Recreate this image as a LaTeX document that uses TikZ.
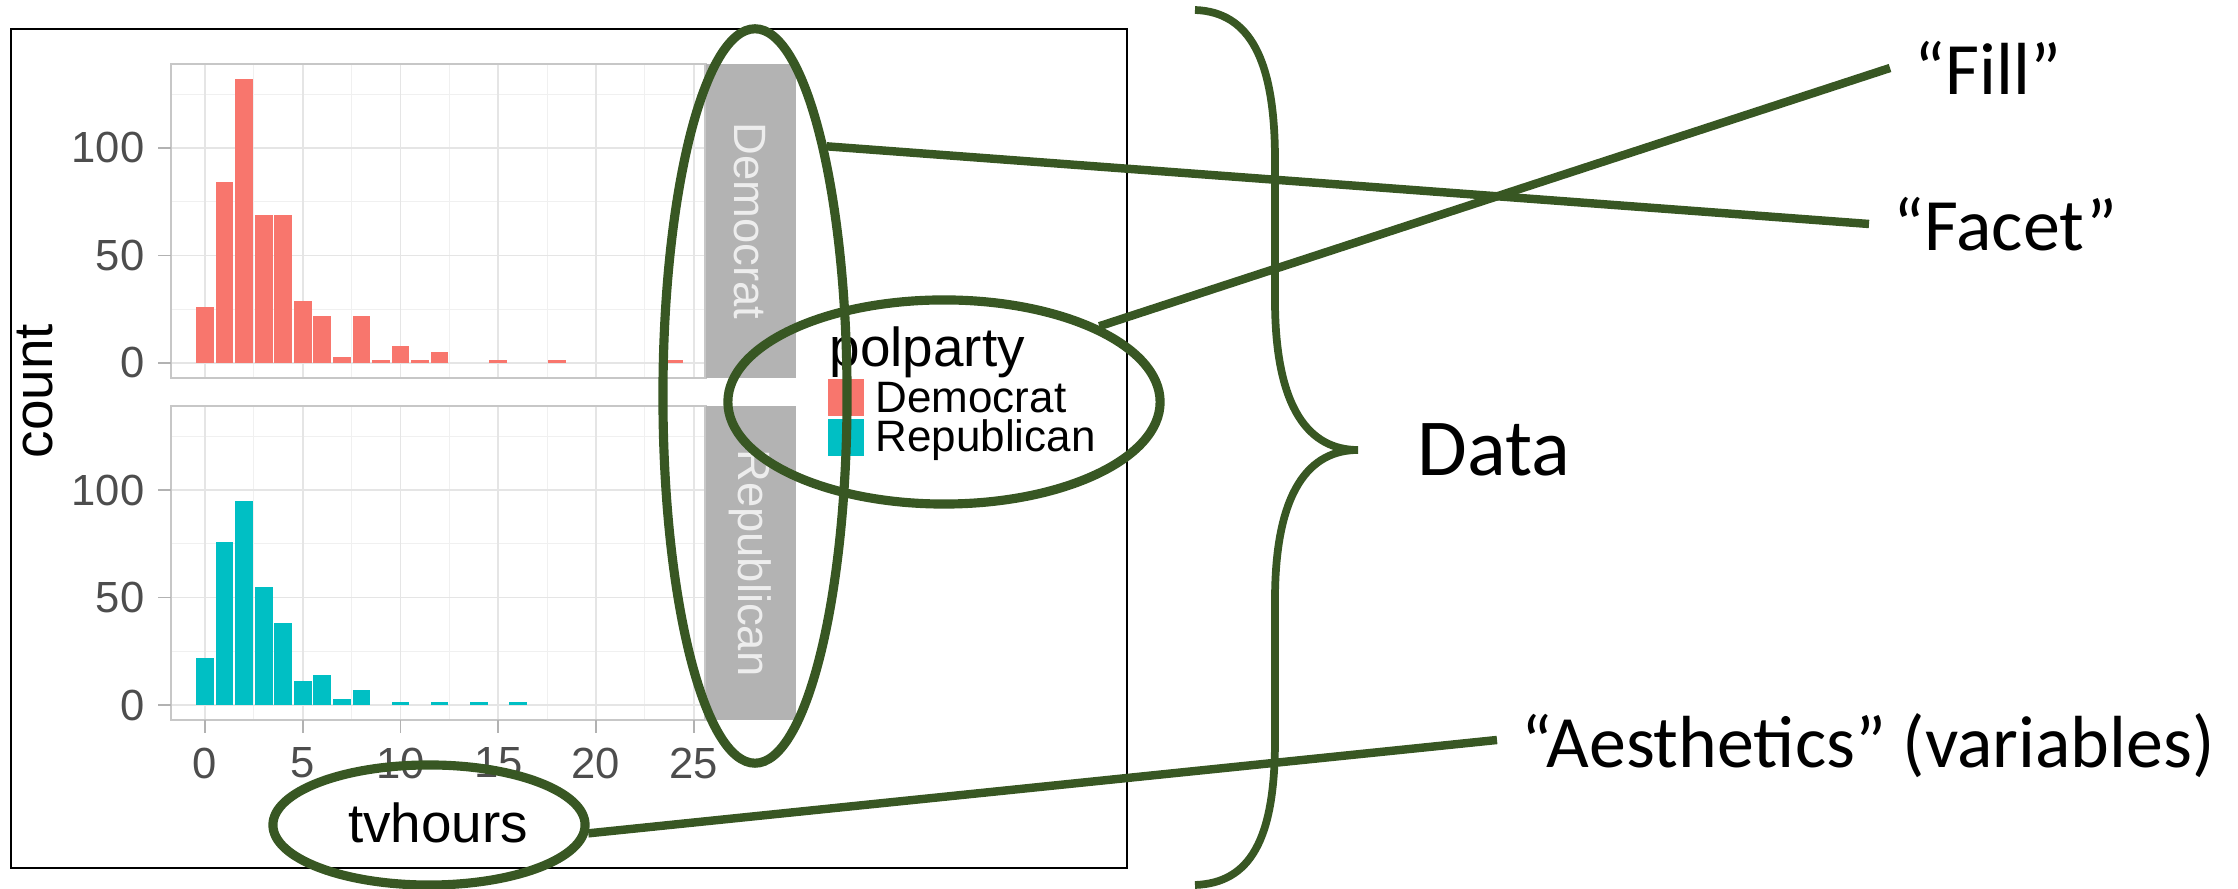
\documentclass[tikz,border=0pt]{standalone}
\usepackage{fontspec}
\setmainfont{Carlito}
\newfontfamily\plotfont{Liberation Sans}
\usetikzlibrary{shapes.geometric}
\definecolor{callgreen}{RGB}{56,87,35}
\definecolor{demred}{HTML}{F8766D}
\definecolor{repcyan}{HTML}{00BFC4}
\definecolor{stripgray}{HTML}{B3B3B3}
\definecolor{axisgray}{HTML}{4D4D4D}
\begin{document}
\begin{tikzpicture}[x = 0.01cm, y = -0.01cm,
        oval/.style = {ellipse, draw = callgreen, line width = 2.6pt, inner sep = 0pt},
        callout/.style = {draw = callgreen, line width = 2.4pt},
        lbl/.style = {font = \fontsize{21}{25}\selectfont, inner xsep = 0.24cm, inner ysep = 0pt},
        ticklbl/.style = {font = \plotfont\fontsize{12.4}{14}\selectfont, text = axisgray, inner sep = 0pt},
        axislbl/.style = {font = \plotfont\fontsize{15.6}{18}\selectfont, inner sep = 0pt},
        keylbl/.style = {font = \plotfont\fontsize{12.5}{14}\selectfont, inner sep = 0pt},
        striplbl/.style = {font = \plotfont\fontsize{12.9}{14}\selectfont, text = white!93!black, inner sep = 0pt},
        panelborder/.style = {draw = black!22, line width = 0.6pt},
        majorgrid/.style = {draw = black!10, line width = 0.5pt},
        minorgrid/.style = {draw = black!6, line width = 0.3pt},
        axistick/.style = {draw = black!30, line width = 0.5pt}]
    \useasboundingbox (0, 0) rectangle (2238, 889);
    \draw [line width = 0.6pt] (11, 29) rectangle (1127, 868);

    \begin{scope}[shift = {(205, 363)}, xscale = 19.55, yscale = -2.15]
        \foreach \gx in {2.5, 7.5, ..., 22.5}
            \draw [minorgrid] (\gx, -7) -- (\gx, 139);
        \foreach \gy in {25, 75, 125}
            \draw [minorgrid] (-1.74, \gy) -- (25.6, \gy);
        \foreach \gx in {0, 5, ..., 25}
            \draw [majorgrid] (\gx, -7) -- (\gx, 139);
        \foreach \gy in {0, 50, 100}
            \draw [majorgrid] (-1.74, \gy) -- (25.6, \gy);
        \foreach \bx/\bc in {0/26, 1/84, 2/132, 3/69, 4/69, 5/29, 6/22, 7/3, 8/22,
                9/1.3, 10/8, 11/1.3, 12/5, 15/1.3, 18/1.3, 24/1.3}
            \fill [demred] (\bx - 0.455, 0) rectangle (\bx + 0.455, \bc);
        \draw [panelborder] (-1.74, -7) rectangle (25.6, 139);
    \end{scope}

    \begin{scope}[shift = {(205, 705)}, xscale = 19.55, yscale = -2.15]
        \foreach \gx in {2.5, 7.5, ..., 22.5}
            \draw [minorgrid] (\gx, -7) -- (\gx, 139);
        \foreach \gy in {25, 75, 125}
            \draw [minorgrid] (-1.74, \gy) -- (25.6, \gy);
        \foreach \gx in {0, 5, ..., 25}
            \draw [majorgrid] (\gx, -7) -- (\gx, 139);
        \foreach \gy in {0, 50, 100}
            \draw [majorgrid] (-1.74, \gy) -- (25.6, \gy);
        \foreach \bx/\bc in {0/22, 1/76, 2/95, 3/55, 4/38, 5/11, 6/14, 7/3, 8/7,
                10/1.3, 12/1.3, 14/1.3, 16/1.3}
            \fill [repcyan] (\bx - 0.455, 0) rectangle (\bx + 0.455, \bc);
        \draw [panelborder] (-1.74, -7) rectangle (25.6, 139);
    \end{scope}

    \foreach \ty in {0, 50, 100} {
        \draw [axistick] (158, {363 - 2.15*\ty}) -- (171, {363 - 2.15*\ty});
        \node [ticklbl, anchor = east] (ytop\ty) at (145, {363 - 2.15*\ty}) {\ty};
        \draw [axistick] (158, {705 - 2.15*\ty}) -- (171, {705 - 2.15*\ty});
        \node [ticklbl, anchor = east] (ybot\ty) at (145, {705 - 2.15*\ty}) {\ty};
    }
    \foreach \tx in {0, 5, ..., 25} {
        \draw [axistick] ({205 + 19.55*\tx}, 720) -- ({205 + 19.55*\tx}, 733);
        \node [ticklbl, anchor = north] (xt\tx) at ({205 + 19.55*\tx}, 747) {\tx};
    }

    \fill [stripgray] (706, 64) rectangle (796, 378);
    \fill [stripgray] (706, 406) rectangle (796, 720);
    \node [striplbl, rotate = -90] (demstrip) at (750, 221) {Democrat};
    \node [striplbl, rotate = -90] (repstrip) at (750, 563) {Republican};

    \node [axislbl, rotate = 90, anchor = base] (countlbl) at (52, 391) {count};
    \node [axislbl, anchor = base] (tvlbl) at (438, 843) {tvhours};

    \node [axislbl, anchor = base west] (legtitle) at (829, 367) {polparty};
    \filldraw [draw = white, fill = demred] (827, 378) rectangle (865, 417);
    \filldraw [draw = white, fill = repcyan] (827, 418) rectangle (865, 457);
    \node [keylbl, anchor = base west] (demkey) at (875, 413) {Democrat};
    \node [keylbl, anchor = base west] (repkey) at (875, 452) {Republican};

    \node [oval, minimum width = 1.84cm, minimum height = 7.34cm] (facetoval) at (755, 396) {};
    \node [oval, minimum width = 4.32cm, minimum height = 2.04cm] (legoval) at (944, 402) {};
    \node [oval, minimum width = 3.12cm, minimum height = 1.20cm] (tvoval) at (429, 825) {};

    \node [lbl, anchor = west] (filltxt) at (1890, 68) {“Fill”};
    \node [lbl, anchor = west] (facettxt) at (1869, 224) {“Facet”};
    \node [lbl, anchor = west, text depth = 0pt] (aestxt) at (1497, 740) {“Aesthetics” (variables)};
    \node [lbl, anchor = west, inner sep = 0pt, font = \fontsize{23}{27}\selectfont] (datatxt) at (1417, 450) {Data};

    \draw [callout] (facetoval.74) -- (facettxt.west);
    \draw [callout] (legoval.26) -- (filltxt.west);
    \draw [callout] (tvoval.-3) -- (aestxt.west);

    \draw [callgreen, line width = 2.2pt]
        (1195, 10) .. controls (1250, 12) and (1275, 60) .. (1275, 160)
        -- (1275, 300) .. controls (1275, 410) and (1310, 450) .. (1358, 450)
        .. controls (1310, 450) and (1275, 490) .. (1275, 600)
        -- (1275, 740) .. controls (1275, 840) and (1250, 883) .. (1195, 885);
\end{tikzpicture}
\end{document}
